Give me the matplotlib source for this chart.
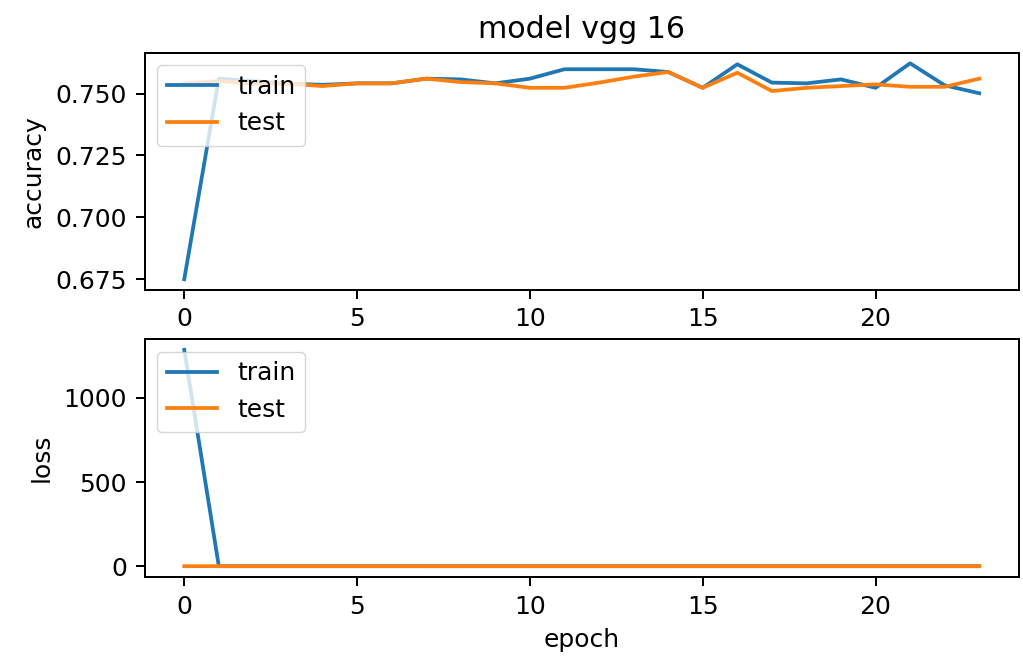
import matplotlib
matplotlib.use("Agg")
import matplotlib.pyplot as plt

epochs = list(range(24))
train_acc = [0.675, 0.756, 0.755, 0.754, 0.7535, 0.7541, 0.7541, 0.7560, 0.7557, 0.7541,
             0.7560, 0.7598, 0.7598, 0.7598, 0.7587, 0.7523, 0.7618, 0.7544, 0.7541, 0.7557,
             0.7523, 0.7622, 0.7533, 0.7501]
test_acc = [0.754, 0.755, 0.754, 0.754, 0.7530, 0.7541, 0.7541, 0.7560, 0.7546, 0.7541,
            0.7523, 0.7523, 0.7544, 0.7568, 0.7587, 0.7523, 0.7584, 0.7510, 0.7523, 0.7530,
            0.7537, 0.7527, 0.7527, 0.7560]
train_loss = [1285.0, 0.62, 0.58, 0.57, 0.56, 0.56, 0.56, 0.55, 0.55, 0.56,
              0.55, 0.54, 0.54, 0.54, 0.54, 0.56, 0.53, 0.55, 0.55, 0.55,
              0.56, 0.53, 0.55, 0.56]
test_loss = [0.56, 0.55, 0.56, 0.56, 0.56, 0.56, 0.56, 0.55, 0.56, 0.56,
             0.56, 0.56, 0.56, 0.55, 0.55, 0.56, 0.55, 0.56, 0.56, 0.56,
             0.56, 0.56, 0.56, 0.55]

s = 1.8
plt.rcParams.update({
    "font.family": "DejaVu Sans",
    "font.size": 10 * s,
    "lines.linewidth": 1.5 * s,
    "axes.linewidth": 0.8 * s,
    "xtick.major.size": 3.5 * s,
    "ytick.major.size": 3.5 * s,
    "xtick.major.width": 0.8 * s,
    "ytick.major.width": 0.8 * s,
    "xtick.major.pad": 3.5 * s,
    "ytick.major.pad": 3.5 * s,
    "axes.titlepad": 6 * s,
    "axes.labelpad": 4 * s,
    "legend.fontsize": 10 * s,
})

W, H = 1023, 657
fig = plt.figure(figsize=(W / 100, H / 100), dpi=100)
left = 144.5 / W
width = (1019 - 144.5) / W
ax1 = fig.add_axes([left, 1 - 290 / H, width, (290 - 52.5) / H])
ax2 = fig.add_axes([left, 1 - 577 / H, width, (577 - 339) / H])

ax1.plot(epochs, train_acc, color="#1f77b4")
ax1.plot(epochs, test_acc, color="#ff7f0e")
ax1.set_title("model vgg 16")
ax1.set_ylabel("accuracy")
ax1.set_yticks([0.675, 0.700, 0.725, 0.750])
ax1.set_xticks([0, 5, 10, 15, 20])
ax1.legend(["train", "test"], loc="upper left")

ax2.plot(epochs, train_loss, color="#1f77b4")
ax2.plot(epochs, test_loss, color="#ff7f0e")
ax2.set_ylabel("loss")
ax2.set_xlabel("epoch")
ax2.set_yticks([0, 500, 1000])
ax2.set_xticks([0, 5, 10, 15, 20])
ax2.legend(["train", "test"], loc="upper left")

fig.savefig("out.png", dpi=100)
